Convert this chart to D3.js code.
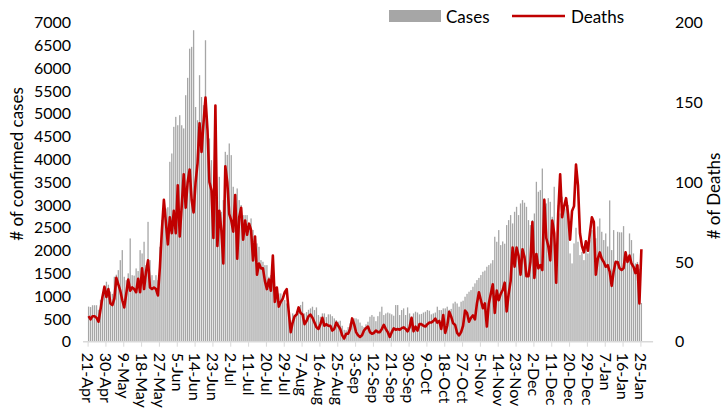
<!DOCTYPE html>
<html>
<head>
<meta charset="utf-8">
<script src="https://cdn.jsdelivr.net/npm/d3@7"></script>
<style>
  html, body { margin: 0; padding: 0; background: #fff; }
  svg { display: block; font-family: Lato, "Open Sans", sans-serif; }
</style>
</head>
<body>
<svg id="chart" width="724" height="409"></svg>
<script>
// ---- data (one value per day, 21-Apr .. 25-Jan) ----
const cases = [
  770,760,800,800,800,700,920,1000,1200,1316,
  1250,1100,1050,1425,1470,1570,1790,2010,1425,1350,
  1500,2266,1460,1450,1608,1550,2010,1937,2193,1680,
  2630,1790,1460,1350,1460,1350,2083,2670,3107,2924,
  2950,3947,4130,4715,4934,4750,4970,4750,4680,5409,
  5790,6430,6470,6835,5150,4860,5848,5370,5190,6615,
  4495,4460,3984,3326,3180,2960,3618,2850,3107,4167,
  4100,4350,4094,3400,2887,3363,3107,3000,2778,2778,
  2778,2522,2705,2450,2193,2157,2083,1790,1754,1680,
  1680,1425,1462,1350,1206,1133,1060,1060,987,914,
  840,621,475,621,585,585,694,804,877,620,
  650,700,731,768,694,753,585,548,621,621,
  540,600,600,560,512,475,439,460,350,260,
  250,320,402,512,512,512,490,420,350,320,
  380,439,548,585,548,450,560,658,768,585,
  620,640,621,600,570,804,804,585,694,731,
  585,753,621,548,621,658,640,600,610,640,
  658,694,680,600,620,640,768,694,694,731,
  731,768,700,720,840,877,840,768,877,900,
  987,1050,1097,1133,1206,1280,1352,1400,1462,1535,
  1560,1645,1681,1718,1790,2303,2193,2449,2120,2200,
  2150,2559,2668,2778,2595,2851,2960,2778,3034,3107,
  3050,2960,2668,2559,2668,2814,3509,3290,3326,3800,
  3143,3034,3150,3070,2741,3400,2000,2997,2814,3180,
  2997,2924,3000,1937,1718,2157,2500,2193,1900,1970,
  1790,2120,1937,2230,2449,2480,2270,2530,2705,2412,
  2230,2376,2090,3100,2010,2449,1790,2412,2400,2400,
  2536,1974,1850,2376,2230,1937,1718,1750,1600,850
];
const deaths = [
  16,14,16,16,15,12.5,20,28,34.5,28,
  33,24,23,27,40,36,32,26,21.5,30,
  39,32,34,33,31,39.5,31,46,33,44,
  51,34,33,34,33,29,47,70,89,75,
  61,78,68,82,68,98,66,85,105,84,
  100,108,89,81,100,112,137,119,137,153,
  133,100,95,65,148,60,82,70,49,110,
  100,80,76,69,92,52,78,84,64,76,
  67,74,70,51,66,42,49,46,46,38,
  33,39,32,54,25,34,22,25,27,31,
  33,19,6,12,16,17,21.5,18,17,11,
  13,16,17,15,12,9,8,11,15,10,
  11,10,10,7,8,12,10,8,4,2,
  5,5,8,14.6,11,6,4,3,4,7,
  8.5,9.5,6,5,5.5,7,6,6,8,10.5,
  8,6,3,6,8.4,7.5,8,7.5,8.5,9,
  8,6.5,9,15,6.5,9.4,7,11,11,10,
  9.5,11,12,12,13,14.5,12,13,8,16.7,
  5.5,10,18.8,15.7,11.5,10.5,5.5,4,6,10,
  19.5,18,12.5,15,16.5,14,24,31,26,21,
  24,9.5,24,30,36,18,32,26,30,32.4,
  37,19,30,38,59,47,59,54,42,58,
  53,41,41,50,75,40,55,46,48,45,
  89,65,60,51,76,68,37,80,105,78,
  85,90,80,64,82,85,111,98,68,60,
  56,63,57,68,78,75,42,52,56,52,
  50,47,48,44,35,44,50,50,46,45,
  46,56,50,54,49,47,43,48,24,58
];
const tickLabels = ["21-Apr","30-Apr","9-May","18-May","27-May","5-Jun","14-Jun","23-Jun",
  "2-Jul","11-Jul","20-Jul","29-Jul","7-Aug","16-Aug","25-Aug","3-Sep","12-Sep","21-Sep",
  "30-Sep","9-Oct","18-Oct","27-Oct","5-Nov","14-Nov","23-Nov","2-Dec","11-Dec","20-Dec",
  "29-Dec","7-Jan","16-Jan","25-Jan"];
const tickStep = 9;
const casesTicks = d3.range(0, 7001, 500);
const deathsTicks = [0, 50, 100, 150, 200];
const seriesNames = ["Cases", "Deaths"];

// ---- layout ----
const svg = d3.select("#chart");
const x = d3.scaleLinear().domain([0, cases.length - 1]).range([87.6, 640.4]);
const yL = d3.scaleLinear().domain([0, 7000]).range([341.7, 22.7]);
const yR = d3.scaleLinear().domain([0, 200]).range([341.7, 22.7]);
const FS = 16;
const FONT = "Lato, 'Open Sans', sans-serif";

// bars
const bw = 1.3;
svg.append("g").selectAll("rect").data(cases).join("rect")
  .attr("x", (d, i) => x(i + 0.5) - bw / 2)
  .attr("width", bw)
  .attr("y", d => yL(d))
  .attr("height", d => yL(0) - yL(d))
  .attr("fill", "#a6a6a6");

// x axis
const xAxis = d3.axisBottom(x)
  .tickValues(d3.range(0, cases.length, tickStep))
  .tickFormat(i => tickLabels[i / tickStep])
  .tickSize(5).tickSizeOuter(0);
const gx = svg.append("g").attr("transform", `translate(0,${yL(0)})`).call(xAxis);
gx.select(".domain").remove();
gx.insert("line", ":first-child")
  .attr("x1", x(-2.3)).attr("x2", x(285.4))
  .attr("y1", 0).attr("y2", 0)
  .attr("stroke", "#d9d9d9").attr("stroke-width", 1.5);
gx.selectAll(".tick line").attr("stroke", "#d9d9d9").attr("stroke-width", 1);
gx.selectAll(".tick text")
  .attr("transform", "rotate(90)")
  .attr("x", 11).attr("y", 0).attr("dy", "0.35em")
  .attr("text-anchor", "start")
  .attr("fill", "#000")
  .style("font-size", FS + "px")
  .style("font-family", FONT);

// deaths line
svg.append("path").datum(deaths)
  .attr("fill", "none")
  .attr("stroke", "#c00000")
  .attr("stroke-width", 2.6)
  .attr("stroke-linejoin", "round")
  .attr("d", d3.line().x((d, i) => x(i + 0.5)).y(d => yR(d)));

// left axis
const gl = svg.append("g").attr("transform", "translate(71,0)")
  .call(d3.axisLeft(yL).tickValues(casesTicks).tickFormat(d3.format("d")).tickSize(0).tickPadding(0));
gl.select(".domain").remove();
gl.selectAll("text").attr("fill", "#000").style("font-size", FS + "px").style("font-family", FONT);

// right axis
const gr = svg.append("g").attr("transform", "translate(675,0)")
  .call(d3.axisRight(yR).tickValues(deathsTicks).tickFormat(d3.format("d")).tickSize(0).tickPadding(0));
gr.select(".domain").remove();
gr.selectAll("text").attr("fill", "#000").style("font-size", FS + "px").style("font-family", FONT);

// axis titles
svg.append("text")
  .attr("transform", "translate(23,164) rotate(-90)")
  .attr("text-anchor", "middle")
  .style("font-size", "17px")
  .text("# of confirmed cases");
svg.append("text")
  .attr("transform", "translate(719.5,196) rotate(-90)")
  .attr("text-anchor", "middle")
  .style("font-size", "17px")
  .text("# of Deaths");

// legend
const lg = svg.append("g");
lg.append("rect").attr("x", 389).attr("y", 10).attr("width", 52).attr("height", 12).attr("fill", "#a6a6a6");
lg.append("text").attr("x", 446).attr("y", 23).style("font-size", "17px").text(seriesNames[0]);
lg.append("line").attr("x1", 512).attr("x2", 565).attr("y1", 16).attr("y2", 16)
  .attr("stroke", "#c00000").attr("stroke-width", 2.6);
lg.append("text").attr("x", 571).attr("y", 23).style("font-size", "17px").text(seriesNames[1]);
</script>
</body>
</html>
